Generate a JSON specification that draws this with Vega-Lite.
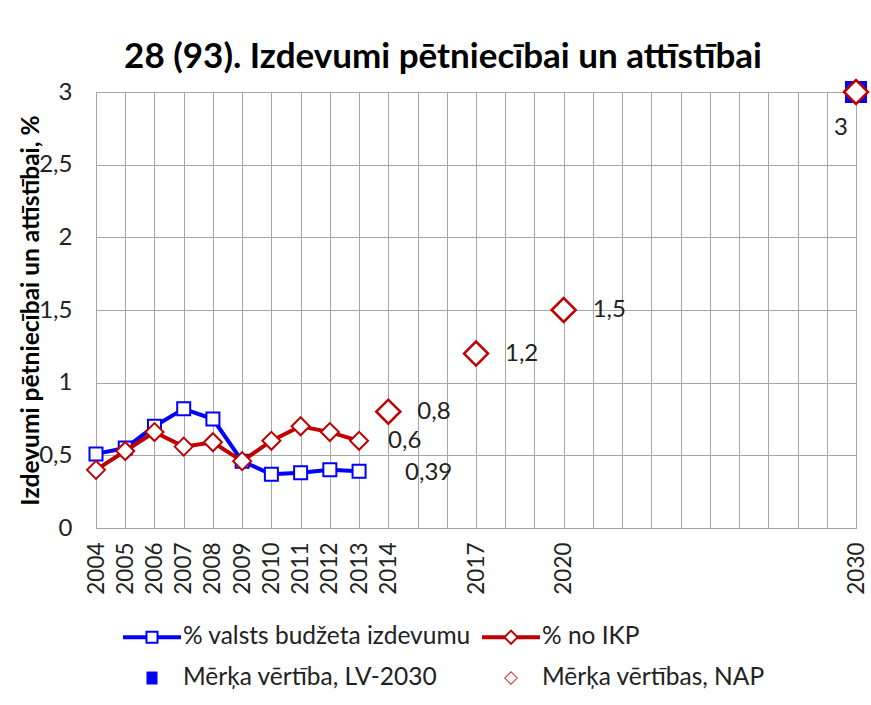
{
  "$schema": "https://vega.github.io/schema/vega-lite/v6.json",
  "width": 760,
  "height": 436,
  "autosize": {"type": "none"},
  "padding": {"left": 96, "top": 92, "right": 15, "bottom": 177},
  "background": "white",
  "title": {"text": "28 (93). Izdevumi pētniecībai un attīstībai", "fontSize": 35, "font": "Lato", "fontWeight": "bold", "color": "#000000", "baseline": "alphabetic", "offset": 16, "dx": -33, "dy": 44},
  "config": {
    "view": {"stroke": "#a6a6a6", "strokeWidth": 1},
    "legend": {
      "orient": "none", "legendX": 27, "legendY": 516, "columns": 2, "direction": "horizontal",
      "symbolSize": 3364, "symbolStrokeWidth": 0, "labelFont": "Lato", "labelFontSize": 24.5, "labelColor": "#222222",
      "labelOffset": 2, "columnPadding": 11, "rowPadding": 0, "labelLimit": 500
    }
  },
  "datasets": {
    "series": [
      {"year": 2004, "value": 0.51, "series": "% valsts budžeta izdevumu"},
      {"year": 2005, "value": 0.55, "series": "% valsts budžeta izdevumu"},
      {"year": 2006, "value": 0.70, "series": "% valsts budžeta izdevumu"},
      {"year": 2007, "value": 0.82, "series": "% valsts budžeta izdevumu"},
      {"year": 2008, "value": 0.75, "series": "% valsts budžeta izdevumu"},
      {"year": 2009, "value": 0.46, "series": "% valsts budžeta izdevumu"},
      {"year": 2010, "value": 0.37, "series": "% valsts budžeta izdevumu"},
      {"year": 2011, "value": 0.38, "series": "% valsts budžeta izdevumu"},
      {"year": 2012, "value": 0.40, "series": "% valsts budžeta izdevumu"},
      {"year": 2013, "value": 0.39, "series": "% valsts budžeta izdevumu"},
      {"year": 2004, "value": 0.40, "series": "% no IKP"},
      {"year": 2005, "value": 0.53, "series": "% no IKP"},
      {"year": 2006, "value": 0.66, "series": "% no IKP"},
      {"year": 2007, "value": 0.56, "series": "% no IKP"},
      {"year": 2008, "value": 0.59, "series": "% no IKP"},
      {"year": 2009, "value": 0.46, "series": "% no IKP"},
      {"year": 2010, "value": 0.60, "series": "% no IKP"},
      {"year": 2011, "value": 0.70, "series": "% no IKP"},
      {"year": 2012, "value": 0.66, "series": "% no IKP"},
      {"year": 2013, "value": 0.60, "series": "% no IKP"}
    ],
    "targets": [
      {"year": 2030, "value": 3, "series": "Mērķa vērtība, LV-2030"},
      {"year": 2014, "value": 0.8, "series": "Mērķa vērtības, NAP"},
      {"year": 2017, "value": 1.2, "series": "Mērķa vērtības, NAP"},
      {"year": 2020, "value": 1.5, "series": "Mērķa vērtības, NAP"},
      {"year": 2030, "value": 3, "series": "Mērķa vērtības, NAP"}
    ],
    "labels": [
      {"year": 2013, "value": 0.60, "text": "0,6", "pos": "right"},
      {"year": 2014, "value": 0.8, "text": "0,8", "pos": "right"},
      {"year": 2017, "value": 1.2, "text": "1,2", "pos": "right"},
      {"year": 2020, "value": 1.5, "text": "1,5", "pos": "right"},
      {"year": 2013, "value": 0.39, "text": "0,39", "pos": "farright"},
      {"year": 2030, "value": 3, "text": "3", "pos": "below"}
    ]
  },
  "encoding": {
    "x": {
      "field": "year", "type": "quantitative",
      "scale": {"domain": [2004, 2030], "nice": false, "zero": false},
      "axis": {
        "values": [2004,2005,2006,2007,2008,2009,2010,2011,2012,2013,2014,2015,2016,2017,2018,2019,2020,2021,2022,2023,2024,2025,2026,2027,2028,2029,2030],
        "grid": true, "gridColor": "#a6a6a6", "gridOpacity": 1, "ticks": false, "domain": false,
        "labelAngle": -90, "labelFont": "Lato", "labelFontSize": 22.5, "labelColor": "#222222", "labelPadding": 14,
        "labelOverlap": false, "labelFlush": false, "labelBound": false, "format": "d",
        "labelExpr": "indexof([2004,2005,2006,2007,2008,2009,2010,2011,2012,2013,2014,2017,2020,2030], datum.value) >= 0 ? datum.label : ''",
        "title": null
      }
    },
    "y": {
      "field": "value", "type": "quantitative",
      "scale": {"domain": [0, 3], "nice": false},
      "axis": {
        "values": [0, 0.5, 1, 1.5, 2, 2.5, 3],
        "grid": true, "gridColor": "#a6a6a6", "gridOpacity": 1, "ticks": false, "domain": false,
        "labelFont": "Lato", "labelFontSize": 24, "labelColor": "#222222", "labelPadding": 24,
        "labelExpr": "replace(format(datum.value, '~g'), '.', ',')",
        "title": "Izdevumi pētniecībai un attīstībai, %",
        "titleFont": "Lato", "titleFontSize": 24.5, "titleFontWeight": "bold", "titleColor": "#000000",
        "titleAngle": -90, "titleX": -65, "titleY": 218, "titleAlign": "center", "titleBaseline": "middle"
      }
    }
  },
  "layer": [
    {
      "data": {"name": "series"},
      "transform": [{"filter": "datum.series == '% valsts budžeta izdevumu'"}],
      "mark": {"type": "line", "color": "#0000ff", "strokeWidth": 4}
    },
    {
      "data": {"name": "series"},
      "transform": [{"filter": "datum.series == '% valsts budžeta izdevumu'"}],
      "mark": {"type": "point", "shape": "square", "size": 169, "filled": true, "fill": "#ffffff", "stroke": "#0000ff", "strokeWidth": 2, "opacity": 1}
    },
    {
      "data": {"name": "series"},
      "transform": [{"filter": "datum.series == '% no IKP'"}],
      "mark": {"type": "line", "color": "#c00000", "strokeWidth": 4}
    },
    {
      "data": {"name": "series"},
      "transform": [{"filter": "datum.series == '% no IKP'"}],
      "mark": {"type": "point", "shape": "diamond", "size": 324, "filled": true, "fill": "#ffffff", "stroke": "#c00000", "strokeWidth": 2, "opacity": 1}
    },
    {
      "data": {"name": "targets"},
      "transform": [{"filter": "datum.series == 'Mērķa vērtība, LV-2030'"}],
      "mark": {"type": "point", "shape": "square", "size": 484, "filled": true, "fill": "#0000ff", "strokeWidth": 0, "opacity": 1}
    },
    {
      "data": {"name": "targets"},
      "transform": [{"filter": "datum.series == 'Mērķa vērtības, NAP'"}],
      "mark": {"type": "point", "shape": "diamond", "size": 576, "filled": true, "fill": "#ffffff", "stroke": "#c00000", "strokeWidth": 2.5, "opacity": 1}
    },
    {
      "data": {"name": "labels"},
      "transform": [{"filter": "datum.pos == 'right'"}],
      "mark": {"type": "text", "align": "left", "baseline": "middle", "dx": 29, "font": "Lato", "fontSize": 24, "color": "#222222"},
      "encoding": {"text": {"field": "text"}}
    },
    {
      "data": {"name": "labels"},
      "transform": [{"filter": "datum.pos == 'farright'"}],
      "mark": {"type": "text", "align": "left", "baseline": "middle", "dx": 46, "dy": 2, "font": "Lato", "fontSize": 24, "color": "#222222"},
      "encoding": {"text": {"field": "text"}}
    },
    {
      "data": {"name": "labels"},
      "transform": [{"filter": "datum.pos == 'below'"}],
      "mark": {"type": "text", "align": "center", "baseline": "middle", "dx": -15, "dy": 36, "font": "Lato", "fontSize": 24, "color": "#222222"},
      "encoding": {"text": {"field": "text"}}
    },
    {
      "data": {"name": "series"},
      "transform": [{"filter": "false"}],
      "mark": {"type": "point", "filled": true, "opacity": 1, "strokeWidth": 0},
      "encoding": {
        "color": {
          "field": "series", "type": "nominal",
          "scale": {"domain": ["% valsts budžeta izdevumu", "% no IKP", "Mērķa vērtība, LV-2030", "Mērķa vērtības, NAP"], "range": ["#0000ff", "#c00000", "#0000ff", "#d03030"]},
          "legend": {"title": null}
        },
        "shape": {
          "field": "series", "type": "nominal",
          "scale": {"domain": ["% valsts budžeta izdevumu", "% no IKP", "Mērķa vērtība, LV-2030", "Mērķa vērtības, NAP"],
            "range": [
              "M-1,-0.07H-0.19V0.07H-1Z M0.19,-0.07H1V0.07H0.19Z M-0.224,-0.224H0.224V0.224H-0.224Z M-0.155,-0.155V0.155H0.155V-0.155Z",
              "M-1,-0.07H-0.2V0.07H-1Z M0.2,-0.07H1V0.07H0.2Z M0,-0.276L0.276,0L0,0.276L-0.276,0Z M0,-0.18L-0.18,0L0,0.18L0.18,0Z",
              "M-0.19,-0.224H0.19V0.224H-0.19Z",
              "M0,-0.241L0.241,0L0,0.241L-0.241,0Z M0,-0.193L-0.193,0L0,0.193L0.193,0Z"
            ]},
          "legend": {"title": null}
        }
      }
    }
  ]
}
